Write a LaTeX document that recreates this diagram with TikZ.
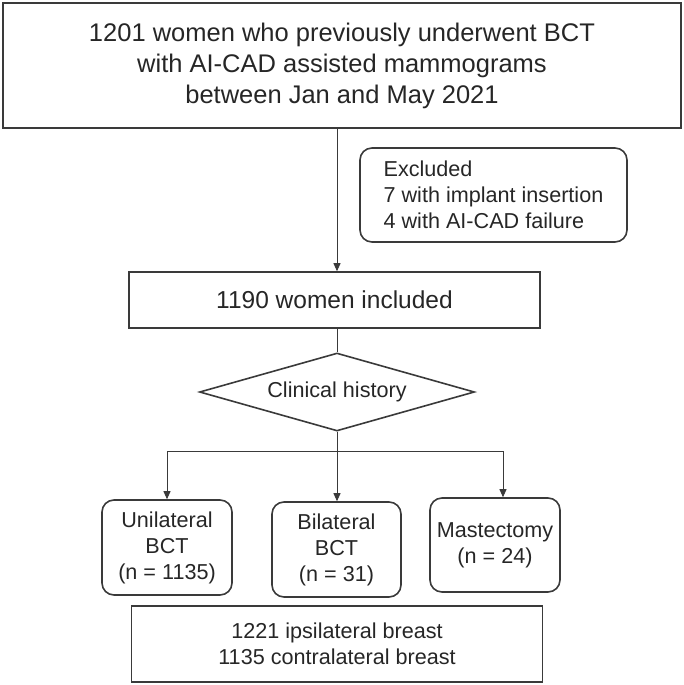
\documentclass[tikz,border=0pt]{standalone}
\usepackage{fontspec}
\setmainfont{Liberation Sans}
\usepackage{xcolor}
\usepackage{tikz}
\usetikzlibrary{arrows.meta,shapes.geometric,calc}

\definecolor{inkgray}{HTML}{262626}
\definecolor{linegray}{HTML}{3A3A3A}

\tikzset{
  box/.style={draw=linegray, line width=1.6pt, text=inkgray, inner sep=0pt, align=center},
  roundbox/.style={box, rounded corners=12pt},
  link/.style={draw=linegray, line width=0.9pt},
  arr/.style={link, -{Triangle[length=8pt,width=7pt]}},
  bigtext/.style={font=\fontsize{25.5}{31}\selectfont},
  midtext/.style={font=\fontsize{24.5}{29}\selectfont},
  smalltext/.style={font=\fontsize{21.6}{26}\selectfont}
}

\begin{document}
\begin{tikzpicture}[x=1pt,y=-1pt]
      \useasboundingbox (0,0) rectangle (683,685);

      \node[box, bigtext, minimum width=678pt, minimum height=125pt] (total) at (342,65.5)
        {1201 women who previously underwent BCT\\with AI-CAD assisted mammograms\\between Jan and May 2021};
      \node[roundbox, smalltext, align=left, inner xsep=21pt, minimum width=267pt, minimum height=94pt] (excl) at (493.5,195)
        {Excluded\\7 with implant insertion\\4 with AI-CAD failure};
      \node[box, midtext, minimum width=411pt, minimum height=56pt] (incl) at (334.5,300) {1190 women included};
      \node[box, smalltext, diamond, aspect=3.5, minimum width=275pt, minimum height=78pt] (hist) at (337,392) {Clinical history};

      \node[roundbox, smalltext, minimum width=130pt, minimum height=95pt] (uni) at (167,547.5) {Unilateral\\BCT\\(n = 1135)};
      \node[roundbox, smalltext, minimum width=129pt, minimum height=95pt] (bi) at (336.5,549.5) {Bilateral\\BCT\\(n = 31)};
      \node[roundbox, smalltext, minimum width=130pt, minimum height=94pt] (mast) at (495,545) {Mastectomy\\(n = 24)};
      \node[box, smalltext, minimum width=411pt, minimum height=76pt] (res) at (337,644)
        {1221 ipsilateral breast\\1135 contralateral breast};

      \coordinate (branch) at ($(hist.south)+(0,20)$);

      \draw[arr] (hist.north |- total.south) -- (hist.north |- incl.north);
      \draw[link] (hist.north |- incl.south) -- (hist.north);
      \draw[arr] (hist.south) -- (hist.south |- bi.north);
      \draw[arr] (branch) -| (uni.north);
      \draw[arr] (branch) -| ([xshift=8pt]mast.north);
    \end{tikzpicture}
\end{document}
